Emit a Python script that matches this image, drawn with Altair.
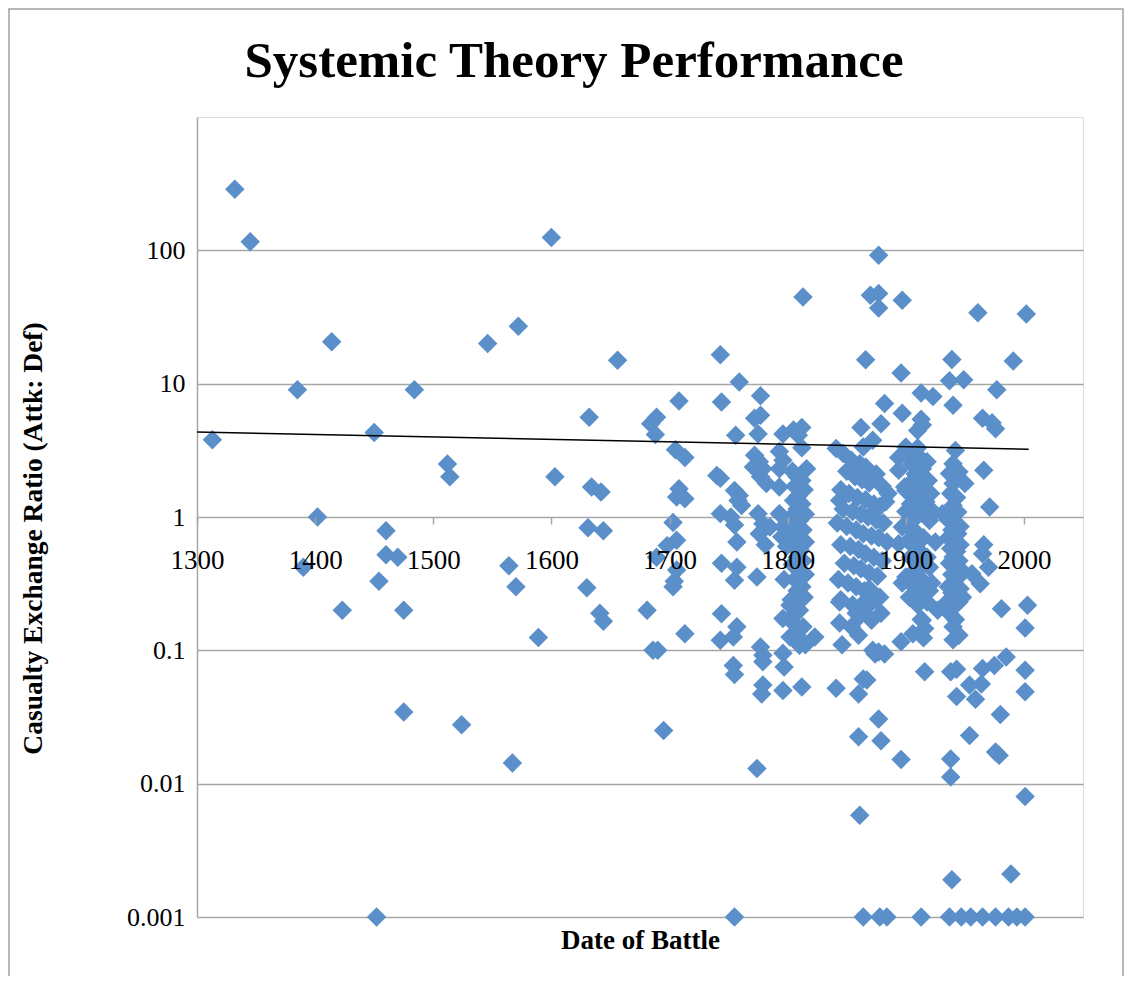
import altair as alt
import pandas as pd

# ---- data (year of battle, attacker:defender casualty ratio) ----
years_early = [1313, 1332, 1345, 1385, 1390, 1402, 1414, 1423, 1450, 1452, 1454, 1460, 1460, 1470, 1475, 1475,
               1484, 1512, 1514, 1524, 1546, 1564, 1567, 1570, 1572, 1589, 1600, 1603, 1630, 1631, 1632, 1634,
               1641, 1642, 1644, 1644, 1656, 1681, 1684, 1686, 1688, 1689, 1689, 1690, 1695, 1698, 1703, 1703,
               1704, 1705, 1706, 1706, 1706, 1708, 1708, 1713, 1713, 1713]
ratios_early = [3.8, 287, 116, 9.0, 0.42, 1.0, 20.6, 0.2, 4.3, 0.001, 0.33, 0.79, 0.52, 0.5, 0.2, 0.0345,
                9.0, 2.5, 2.0, 0.0277, 20, 0.43, 0.0143, 0.30, 27, 0.125, 125, 2.0, 0.295, 0.83, 5.6, 1.68,
                0.19, 1.54, 0.79, 0.165, 15, 0.2, 5.0, 0.1, 4.15, 5.6, 0.5, 0.1, 0.025, 0.61, 0.91, 0.30,
                0.33, 3.2, 1.41, 0.67, 0.4, 7.4, 1.63, 2.8, 1.37, 0.133]

years_1740 = [1743, 1759, 1744, 1756, 1740, 1743, 1755, 1758, 1761, 1743, 1752, 1755, 1757, 1744, 1757, 1755,
              1744, 1757, 1743, 1754, 1754, 1755, 1755, 1759]
ratios_1740 = [16.5, 10.3, 7.3, 4.1, 2.05, 1.95, 1.58, 1.33, 1.22, 1.06, 1.0, 0.87, 0.65, 0.45, 0.42, 0.335,
               0.188, 0.15, 0.119, 0.126, 0.077, 0.066, 0.001, 1.45]

years_1770 = [1777, 1777, 1772, 1775, 1796, 1772, 1776, 1779, 1771, 1793, 1796, 1793, 1777, 1782, 1793, 1775,
              1779, 1785, 1793, 1796, 1795, 1774, 1777, 1779, 1779, 1779, 1778, 1796, 1774, 1776, 1781]
ratios_1770 = [8.1, 5.8, 5.5, 4.2, 4.2, 2.9, 2.6, 2.3, 2.37, 3.1, 2.66, 2.3, 2.0, 1.78, 1.68, 1.06,
               0.89, 0.84, 1.06, 0.84, 0.71, 0.355, 0.106, 0.092, 0.082, 0.055, 0.047, 0.05, 0.013, 0.75, 0.62]

years_1800 = [1796, 1802, 1805, 1802, 1810, 1796, 1797, 1812, 1823, 1805, 1812, 1809, 1808, 1812, 1806, 1814,
              1809, 1805, 1812, 1808, 1815, 1803, 1810, 1807, 1813, 1800, 1809, 1815, 1805, 1811, 1808, 1813,
              1804, 1810, 1815, 1806, 1812, 1808, 1814, 1803, 1810, 1806, 1813, 1808, 1815, 1797, 1799, 1813,
              1812, 1816, 1804]
ratios_1800 = [0.173, 0.218, 0.159, 0.126, 0.109, 0.095, 0.075, 0.053, 0.126, 4.5, 4.7, 4.1, 2.0, 1.88, 1.7, 1.6,
               1.45, 1.33, 1.25, 1.15, 1.05, 1.0, 0.94, 0.87, 0.8, 0.75, 0.7, 0.65, 0.6, 0.56, 0.5, 0.47,
               0.44, 0.4, 0.37, 0.34, 0.3, 0.28, 0.25, 0.24, 0.2, 0.19, 0.15, 0.13, 0.11, 0.34, 0.6, 44.7,
               3.3, 2.3, 2.2]

years_1850 = [1866, 1870, 1877, 1877, 1877, 1841, 1844, 1847, 1854, 1861, 1866, 1862, 1864, 1872, 1879, 1882,
              1850, 1857, 1863, 1869, 1875, 1880, 1885, 1845, 1852, 1859, 1866, 1873, 1878, 1883, 1847, 1855,
              1862, 1868, 1875, 1881, 1842, 1850, 1858, 1864, 1871, 1877, 1884, 1845, 1853, 1860, 1866, 1873,
              1880, 1848, 1856, 1862, 1869, 1876, 1843, 1851, 1858, 1865, 1871, 1878, 1845, 1855, 1862, 1869,
              1875, 1867, 1879, 1871, 1858, 1844, 1844, 1846, 1861, 1865, 1860, 1854, 1872, 1882, 1877, 1874,
              1867, 1864, 1860, 1841, 1860, 1861, 1864, 1879, 1877, 1878, 1884]
ratios_1850 = [15.1, 46, 92, 47.4, 37, 3.26, 1.33, 3.0, 2.66, 2.51, 2.37, 4.7, 3.35, 3.76, 5.0, 7.1,
               2.2, 2.0, 1.9, 1.8, 2.1, 1.7, 1.5, 1.6, 1.5, 1.4, 1.35, 1.25, 1.2, 1.3, 1.15, 1.1,
               1.05, 1.0, 0.95, 0.9, 0.9, 0.85, 0.8, 0.75, 0.72, 0.7, 0.65, 0.62, 0.6, 0.57, 0.53, 0.5,
               0.47, 0.45, 0.43, 0.41, 0.38, 0.36, 0.34, 0.32, 0.3, 0.28, 0.27, 0.25, 0.24, 0.22, 0.21, 0.29,
               0.24, 0.21, 0.19, 0.168, 0.19, 0.23, 0.16, 0.11, 0.18, 0.23, 0.13, 0.15, 0.1, 0.094, 0.097, 0.094,
               0.06, 0.061, 0.047, 0.052, 0.0225, 0.0058, 0.001, 0.021, 0.0305, 0.001, 0.001]

years_1900 = [1897, 1896, 1897, 1894, 1894, 1899, 1897, 1894, 1897, 1896, 1896, 1913, 1923, 1913, 1914, 1910,
              1900, 1903, 1913, 1914, 1919, 1912, 1906, 1900, 1912, 1914, 1920, 1906, 1900, 1914, 1917, 1908,
              1927, 1914, 1915, 1906, 1916, 1913, 1916, 1913, 1905, 1910, 1915, 1902, 1908, 1912, 1918, 1904,
              1910, 1915, 1920, 1907, 1912, 1918, 1903, 1910, 1922, 1900, 1904, 1909, 1917, 1921, 1908, 1918,
              1905, 1910, 1923, 1925, 1920]
ratios_1900 = [42.3, 12.0, 6.0, 2.8, 2.24, 1.68, 0.84, 0.63, 0.32, 0.116, 0.0152, 8.5, 8.0, 5.4, 4.9, 4.45,
               3.35, 2.9, 2.74, 2.3, 1.88, 1.68, 1.88, 1.58, 1.19, 1.06, 0.94, 0.94, 0.355, 0.335, 0.28, 0.4,
               0.2, 0.168, 0.124, 0.133, 0.146, 0.17, 0.069, 0.001, 0.8, 0.75, 0.7, 0.66, 0.6, 0.55, 0.5, 0.5,
               0.46, 0.44, 0.42, 0.3, 0.26, 0.23, 0.25, 0.22, 0.32, 1.1, 1.25, 1.4, 1.3, 1.5, 2.1, 2.6,
               2.5, 3.3, 1.1, 0.65, 0.28]

years_1940 = [1939, 1937, 1949, 1940, 1942, 1940, 1937, 1945, 1950, 1940, 1940, 1944, 1931, 1940, 1935, 1940,
              1945, 1938, 1943, 1943, 1938, 1938, 1939, 1937, 1947, 1938, 1943, 1936, 1941, 1946, 1939, 1944,
              1936, 1941, 1946, 1938, 1943, 1940, 1945, 1937, 1942, 1947, 1939, 1944, 1941, 1936, 1946, 1939,
              1943, 1948, 1937, 1942, 1940, 1945]
ratios_1940 = [15.2, 10.5, 10.7, 6.9, 3.16, 2.51, 2.12, 2.18, 1.78, 1.78, 1.22, 1.09, 1.06, 0.15, 0.23, 0.21,
               0.23, 0.069, 0.072, 0.045, 0.0112, 0.0153, 0.0019, 0.001, 0.001, 1.5, 1.4, 0.95, 0.9, 0.85, 0.8, 0.75,
               0.7, 0.65, 0.62, 0.58, 0.55, 0.5, 0.47, 0.45, 0.42, 0.4, 0.37, 0.35, 0.32, 0.3, 0.29, 0.27,
               0.26, 0.25, 0.19, 0.17, 0.12, 0.13]

years_late = [1961, 1991, 1977, 1965, 1973, 1976, 1966, 1971, 1966, 1965, 1970, 1956, 1963, 1981, 1965, 1975,
              1985, 1954, 1964, 1959, 1954, 1979, 1976, 1980, 1989, 1955, 1965, 1976, 1987, 1994, 2001, 2002,
              2003, 2001, 2001, 2001, 2001]
ratios_late = [34, 14.8, 9.0, 5.5, 5.1, 4.6, 2.24, 1.19, 0.62, 0.53, 0.42, 0.376, 0.316, 0.205, 0.073, 0.077,
               0.089, 0.055, 0.056, 0.043, 0.023, 0.0163, 0.0173, 0.033, 0.0021, 0.001, 0.001, 0.001, 0.001, 0.001, 0.001, 33.3,
               0.218, 0.147, 0.071, 0.049, 0.008]

# trend line (straight on the log axis), end points
trend_years = [1300, 2004]
trend_ratios = [4.34, 3.22]

x_tick_values = [1300, 1400, 1500, 1600, 1700, 1800, 1900, 2000]
y_tick_values = [0.001, 0.01, 0.1, 1, 10, 100]

chart_title = "Systemic Theory Performance"

years = years_early + years_1740 + years_1770 + years_1800 + years_1850 + years_1900 + years_1940 + years_late
ratios = ratios_early + ratios_1740 + ratios_1770 + ratios_1800 + ratios_1850 + ratios_1900 + ratios_1940 + ratios_late

df = pd.DataFrame({"year": years, "ratio": ratios})
tdf = pd.DataFrame({"year": trend_years, "ratio": trend_ratios})

W, H = 886, 800
SERIF = "Liberation Serif"
GRID = "#A6A6A6"

xscale = alt.Scale(domain=[1300, 2050], nice=False, zero=False)
yscale = alt.Scale(type="log", domain=[0.001, 1000], nice=False)

x_axis = alt.Axis(
    values=x_tick_values, format="d", offset=-H / 2, domain=False, grid=False,
    ticks=True, tickColor=GRID, tickSize=7, tickWidth=1.5,
    labelFont=SERIF, labelFontSize=27, labelColor="black", labelBaseline="alphabetic",
    labelPadding=44, labelFlush=False, labelOverlap=False,
    title="Date of Battle", titleFont=SERIF, titleFontSize=27, titleFontWeight="bold",
    titleColor="black", titleY=423, titleBaseline="middle", zindex=1,
)
y_axis = alt.Axis(
    values=y_tick_values, format="~g", grid=True, gridColor=GRID, gridWidth=1.5,
    domain=True, domainColor=GRID, domainWidth=1.5, ticks=False,
    labelFont=SERIF, labelFontSize=26, labelColor="black", labelPadding=12,
    labelFlush=False, labelOverlap=False,
    title="Casualty Exchange Ratio (Attk: Def)", titleFont=SERIF, titleFontSize=27.5,
    titleFontWeight="bold", titleColor="black", titleX=-164, titleY=421,
    titleBaseline="middle", titleAlign="center", titleAngle=270, zindex=0,
)

points = alt.Chart(df).mark_point(
    shape="diamond", filled=True, size=380, color="#5B8FC9", opacity=1, strokeWidth=0
).encode(
    x=alt.X("year:Q", scale=xscale, axis=x_axis),
    y=alt.Y("ratio:Q", scale=yscale, axis=y_axis),
)

trend = alt.Chart(tdf).mark_line(color="black", strokeWidth=1.6).encode(
    x=alt.X("year:Q", scale=xscale, axis=x_axis),
    y=alt.Y("ratio:Q", scale=yscale, axis=y_axis),
)

frame = alt.Chart(pd.DataFrame({"k": [0]})).mark_rect(
    fillOpacity=0, stroke="#A0A0A0", strokeWidth=1.5
).encode(
    x=alt.value(-188), x2=alt.value(W + 40), y=alt.value(-108), y2=alt.value(H + 80)
)

title = alt.Chart(pd.DataFrame({"t": [chart_title]})).mark_text(
    font=SERIF, fontSize=51, fontWeight="bold", color="black", align="center", baseline="alphabetic"
).encode(
    text="t:N", x=alt.value(377), y=alt.value(-40)
)

chart = alt.layer(points, trend, frame, title).properties(
    width=W, height=H,
    autosize=alt.AutoSizeParams(type="none"),
    padding={"left": 189, "top": 109, "right": 41, "bottom": 59},
).configure_view(strokeWidth=0).configure(background="white")

chart.save("out.html", embed_options={"renderer": "svg", "actions": False})
